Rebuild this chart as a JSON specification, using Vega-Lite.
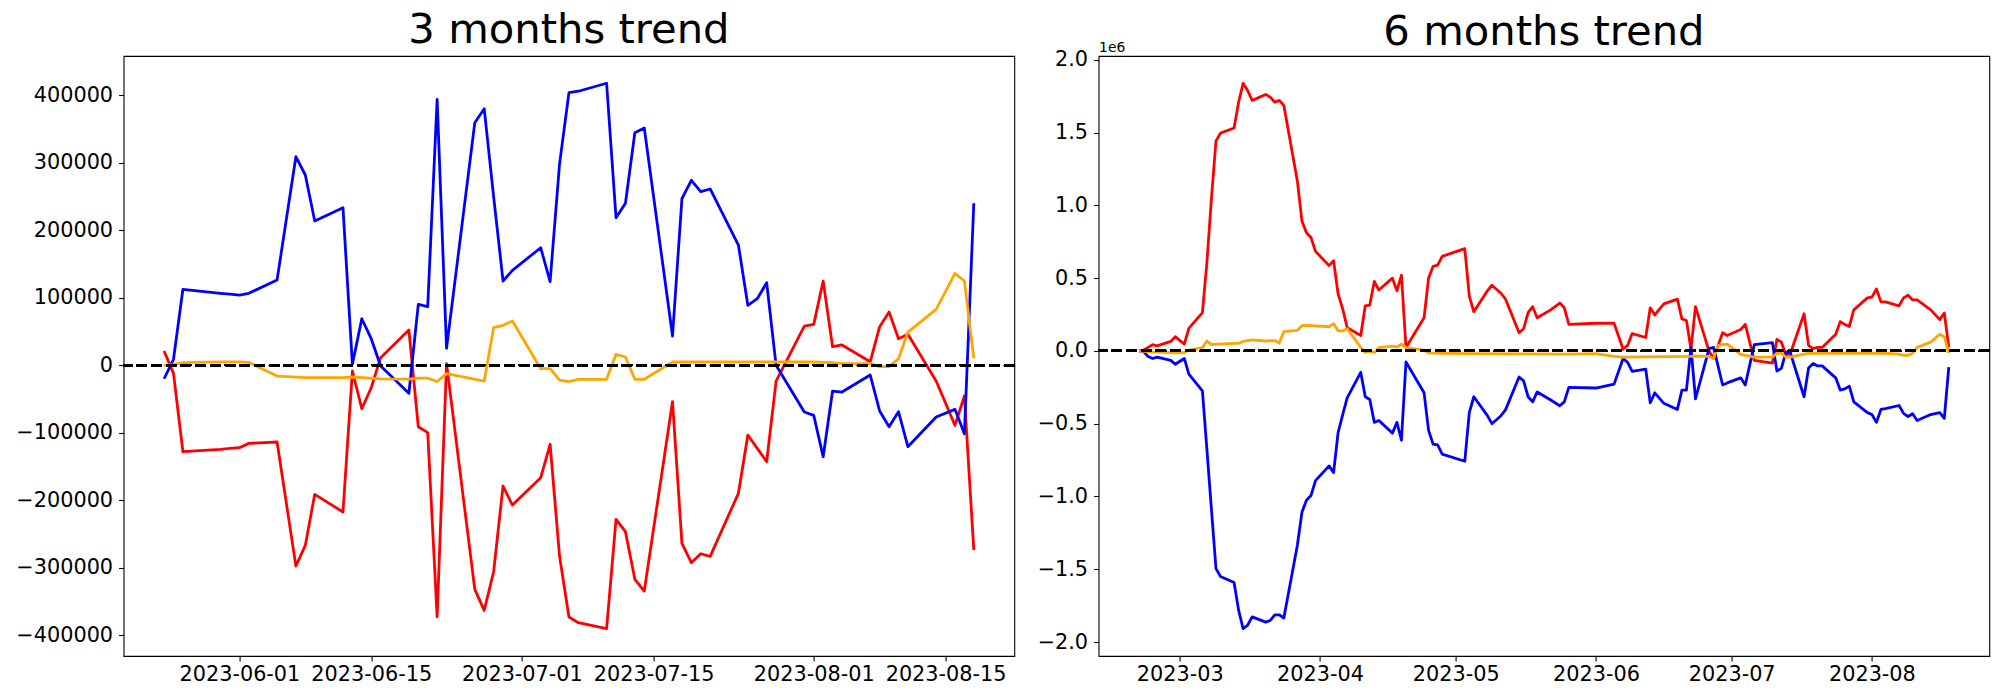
{
  "$schema": "https://vega.github.io/schema/vega-lite/v6.json",
  "background": "white",
  "padding": {"left": 12.6, "top": 9, "right": 0, "bottom": 0},
  "spacing": 19,
  "config": {
    "font": "DejaVu Sans",
    "view": {"stroke": "black", "strokeWidth": 1.1},
    "axis": {
      "domain": false, "grid": false, "ticks": true, "tickColor": "black", "tickWidth": 1.1, "tickSize": 5,
      "labelFont": "DejaVu Sans", "labelFontSize": 20.8, "labelColor": "black", "labelFlush": false, "labelOverlap": false
    },
    "title": {"font": "DejaVu Sans", "fontSize": 41.7, "fontWeight": "normal", "color": "black", "frame": "group", "anchor": "middle", "baseline": "alphabetic"}
  },
  "datasets": {
    "m3": [
      {"d": "2023-05-24", "s": "A", "v": 21200}, {"d": "2023-05-25", "s": "A", "v": -11900}, {"d": "2023-05-26", "s": "A", "v": -128000}, {"d": "2023-05-30", "s": "A", "v": -124500}, {"d": "2023-05-31", "s": "A", "v": -123000}, {"d": "2023-06-01", "s": "A", "v": -122000}, {"d": "2023-06-02", "s": "A", "v": -115600}, {"d": "2023-06-05", "s": "A", "v": -113600}, {"d": "2023-06-07", "s": "A", "v": -297300}, {"d": "2023-06-08", "s": "A", "v": -266700}, {"d": "2023-06-09", "s": "A", "v": -191100}, {"d": "2023-06-12", "s": "A", "v": -217300}, {"d": "2023-06-13", "s": "A", "v": -8400}, {"d": "2023-06-14", "s": "A", "v": -64300}, {"d": "2023-06-15", "s": "A", "v": -33200}, {"d": "2023-06-16", "s": "A", "v": 11300}, {"d": "2023-06-19", "s": "A", "v": 52300}, {"d": "2023-06-20", "s": "A", "v": -91000}, {"d": "2023-06-21", "s": "A", "v": -99800}, {"d": "2023-06-22", "s": "A", "v": -372400}, {"d": "2023-06-23", "s": "A", "v": 2400}, {"d": "2023-06-26", "s": "A", "v": -331900}, {"d": "2023-06-27", "s": "A", "v": -363000}, {"d": "2023-06-28", "s": "A", "v": -305800}, {"d": "2023-06-29", "s": "A", "v": -178800}, {"d": "2023-06-30", "s": "A", "v": -207000}, {"d": "2023-07-03", "s": "A", "v": -166500}, {"d": "2023-07-04", "s": "A", "v": -117000}, {"d": "2023-07-05", "s": "A", "v": -282500}, {"d": "2023-07-06", "s": "A", "v": -372900}, {"d": "2023-07-07", "s": "A", "v": -381300}, {"d": "2023-07-10", "s": "A", "v": -390200}, {"d": "2023-07-11", "s": "A", "v": -228100}, {"d": "2023-07-12", "s": "A", "v": -246500}, {"d": "2023-07-13", "s": "A", "v": -317000}, {"d": "2023-07-14", "s": "A", "v": -334400}, {"d": "2023-07-17", "s": "A", "v": -53900}, {"d": "2023-07-18", "s": "A", "v": -263700}, {"d": "2023-07-19", "s": "A", "v": -292400}, {"d": "2023-07-20", "s": "A", "v": -279100}, {"d": "2023-07-21", "s": "A", "v": -283000}, {"d": "2023-07-24", "s": "A", "v": -189600}, {"d": "2023-07-25", "s": "A", "v": -103300}, {"d": "2023-07-26", "s": "A", "v": -123000}, {"d": "2023-07-27", "s": "A", "v": -142800}, {"d": "2023-07-28", "s": "A", "v": -23300}, {"d": "2023-07-31", "s": "A", "v": 58200}, {"d": "2023-08-01", "s": "A", "v": 60700}, {"d": "2023-08-02", "s": "A", "v": 124900}, {"d": "2023-08-03", "s": "A", "v": 27600}, {"d": "2023-08-04", "s": "A", "v": 30100}, {"d": "2023-08-07", "s": "A", "v": 5400}, {"d": "2023-08-08", "s": "A", "v": 57200}, {"d": "2023-08-09", "s": "A", "v": 79000}, {"d": "2023-08-10", "s": "A", "v": 39400}, {"d": "2023-08-11", "s": "A", "v": 45900}, {"d": "2023-08-14", "s": "A", "v": -23300}, {"d": "2023-08-16", "s": "A", "v": -88900}, {"d": "2023-08-17", "s": "A", "v": -45500}, {"d": "2023-08-18", "s": "A", "v": -273600},
      {"d": "2023-05-24", "s": "B", "v": -19900}, {"d": "2023-05-25", "s": "B", "v": 8900}, {"d": "2023-05-26", "s": "B", "v": 112600}, {"d": "2023-05-30", "s": "B", "v": 106700}, {"d": "2023-05-31", "s": "B", "v": 105500}, {"d": "2023-06-01", "s": "B", "v": 104100}, {"d": "2023-06-02", "s": "B", "v": 106700}, {"d": "2023-06-05", "s": "B", "v": 126400}, {"d": "2023-06-07", "s": "B", "v": 309000}, {"d": "2023-06-08", "s": "B", "v": 281900}, {"d": "2023-06-09", "s": "B", "v": 213800}, {"d": "2023-06-12", "s": "B", "v": 233500}, {"d": "2023-06-13", "s": "B", "v": 1500}, {"d": "2023-06-14", "s": "B", "v": 69000}, {"d": "2023-06-15", "s": "B", "v": 39400}, {"d": "2023-06-16", "s": "B", "v": -1000}, {"d": "2023-06-19", "s": "B", "v": -41500}, {"d": "2023-06-20", "s": "B", "v": 90400}, {"d": "2023-06-21", "s": "B", "v": 86800}, {"d": "2023-06-22", "s": "B", "v": 394000}, {"d": "2023-06-23", "s": "B", "v": 25200}, {"d": "2023-06-26", "s": "B", "v": 359400}, {"d": "2023-06-27", "s": "B", "v": 380200}, {"d": "2023-06-28", "s": "B", "v": 250000}, {"d": "2023-06-29", "s": "B", "v": 124900}, {"d": "2023-06-30", "s": "B", "v": 140700}, {"d": "2023-07-03", "s": "B", "v": 174200}, {"d": "2023-07-04", "s": "B", "v": 123900}, {"d": "2023-07-05", "s": "B", "v": 298000}, {"d": "2023-07-06", "s": "B", "v": 403900}, {"d": "2023-07-07", "s": "B", "v": 406000}, {"d": "2023-07-10", "s": "B", "v": 417800}, {"d": "2023-07-11", "s": "B", "v": 218700}, {"d": "2023-07-12", "s": "B", "v": 240000}, {"d": "2023-07-13", "s": "B", "v": 344600}, {"d": "2023-07-14", "s": "B", "v": 351600}, {"d": "2023-07-17", "s": "B", "v": 43400}, {"d": "2023-07-18", "s": "B", "v": 246800}, {"d": "2023-07-19", "s": "B", "v": 274100}, {"d": "2023-07-20", "s": "B", "v": 257200}, {"d": "2023-07-21", "s": "B", "v": 261200}, {"d": "2023-07-24", "s": "B", "v": 178200}, {"d": "2023-07-25", "s": "B", "v": 88900}, {"d": "2023-07-26", "s": "B", "v": 98700}, {"d": "2023-07-27", "s": "B", "v": 122400}, {"d": "2023-07-28", "s": "B", "v": 0}, {"d": "2023-07-31", "s": "B", "v": -69200}, {"d": "2023-08-01", "s": "B", "v": -74100}, {"d": "2023-08-02", "s": "B", "v": -135400}, {"d": "2023-08-03", "s": "B", "v": -38100}, {"d": "2023-08-04", "s": "B", "v": -39600}, {"d": "2023-08-07", "s": "B", "v": -14400}, {"d": "2023-08-08", "s": "B", "v": -67700}, {"d": "2023-08-09", "s": "B", "v": -91000}, {"d": "2023-08-10", "s": "B", "v": -68700}, {"d": "2023-08-11", "s": "B", "v": -120600}, {"d": "2023-08-14", "s": "B", "v": -76600}, {"d": "2023-08-16", "s": "B", "v": -65200}, {"d": "2023-08-17", "s": "B", "v": -101300}, {"d": "2023-08-18", "s": "B", "v": 240000},
      {"d": "2023-05-24", "s": "C", "v": 0}, {"d": "2023-05-25", "s": "C", "v": 1000}, {"d": "2023-05-26", "s": "C", "v": 3900}, {"d": "2023-05-30", "s": "C", "v": 5000}, {"d": "2023-06-01", "s": "C", "v": 5000}, {"d": "2023-06-02", "s": "C", "v": 4400}, {"d": "2023-06-05", "s": "C", "v": -15900}, {"d": "2023-06-08", "s": "C", "v": -18300}, {"d": "2023-06-12", "s": "C", "v": -18300}, {"d": "2023-06-13", "s": "C", "v": -17300}, {"d": "2023-06-16", "s": "C", "v": -20000}, {"d": "2023-06-19", "s": "C", "v": -20500}, {"d": "2023-06-20", "s": "C", "v": -19000}, {"d": "2023-06-21", "s": "C", "v": -19000}, {"d": "2023-06-22", "s": "C", "v": -24000}, {"d": "2023-06-23", "s": "C", "v": -12400}, {"d": "2023-06-27", "s": "C", "v": -23300}, {"d": "2023-06-28", "s": "C", "v": 55700}, {"d": "2023-06-29", "s": "C", "v": 59300}, {"d": "2023-06-30", "s": "C", "v": 65600}, {"d": "2023-07-03", "s": "C", "v": -5000}, {"d": "2023-07-04", "s": "C", "v": -5000}, {"d": "2023-07-05", "s": "C", "v": -21800}, {"d": "2023-07-06", "s": "C", "v": -24300}, {"d": "2023-07-07", "s": "C", "v": -20700}, {"d": "2023-07-10", "s": "C", "v": -20700}, {"d": "2023-07-11", "s": "C", "v": 16300}, {"d": "2023-07-12", "s": "C", "v": 12300}, {"d": "2023-07-13", "s": "C", "v": -20700}, {"d": "2023-07-14", "s": "C", "v": -20700}, {"d": "2023-07-17", "s": "C", "v": 4900}, {"d": "2023-07-28", "s": "C", "v": 5000}, {"d": "2023-08-01", "s": "C", "v": 4900}, {"d": "2023-08-03", "s": "C", "v": 3900}, {"d": "2023-08-04", "s": "C", "v": 2400}, {"d": "2023-08-07", "s": "C", "v": 2400}, {"d": "2023-08-08", "s": "C", "v": -2000}, {"d": "2023-08-09", "s": "C", "v": -2000}, {"d": "2023-08-10", "s": "C", "v": 9800}, {"d": "2023-08-11", "s": "C", "v": 49300}, {"d": "2023-08-14", "s": "C", "v": 83000}, {"d": "2023-08-16", "s": "C", "v": 136300}, {"d": "2023-08-17", "s": "C", "v": 124900}, {"d": "2023-08-18", "s": "C", "v": 10400}
    ],
    "m6": [
      {"d": "2023-02-20", "s": "A", "v": 0}, {"d": "2023-02-21", "s": "A", "v": 5000}, {"d": "2023-02-22", "s": "A", "v": 24000}, {"d": "2023-02-23", "s": "A", "v": 43000}, {"d": "2023-02-24", "s": "A", "v": 35000}, {"d": "2023-02-27", "s": "A", "v": 65000}, {"d": "2023-02-28", "s": "A", "v": 98000}, {"d": "2023-03-02", "s": "A", "v": 46000}, {"d": "2023-03-03", "s": "A", "v": 155000}, {"d": "2023-03-06", "s": "A", "v": 263000}, {"d": "2023-03-07", "s": "A", "v": 610000}, {"d": "2023-03-08", "s": "A", "v": 1050000}, {"d": "2023-03-09", "s": "A", "v": 1442000}, {"d": "2023-03-10", "s": "A", "v": 1496000}, {"d": "2023-03-13", "s": "A", "v": 1531000}, {"d": "2023-03-14", "s": "A", "v": 1708000}, {"d": "2023-03-15", "s": "A", "v": 1838000}, {"d": "2023-03-16", "s": "A", "v": 1789000}, {"d": "2023-03-17", "s": "A", "v": 1721000}, {"d": "2023-03-20", "s": "A", "v": 1762000}, {"d": "2023-03-21", "s": "A", "v": 1743000}, {"d": "2023-03-22", "s": "A", "v": 1708000}, {"d": "2023-03-23", "s": "A", "v": 1721000}, {"d": "2023-03-24", "s": "A", "v": 1686000}, {"d": "2023-03-27", "s": "A", "v": 1165000}, {"d": "2023-03-28", "s": "A", "v": 893000}, {"d": "2023-03-29", "s": "A", "v": 812000}, {"d": "2023-03-30", "s": "A", "v": 779000}, {"d": "2023-03-31", "s": "A", "v": 684000}, {"d": "2023-04-03", "s": "A", "v": 586000}, {"d": "2023-04-04", "s": "A", "v": 619000}, {"d": "2023-04-05", "s": "A", "v": 391000}, {"d": "2023-04-06", "s": "A", "v": 290000}, {"d": "2023-04-07", "s": "A", "v": 160000}, {"d": "2023-04-10", "s": "A", "v": 106000}, {"d": "2023-04-11", "s": "A", "v": 310000}, {"d": "2023-04-12", "s": "A", "v": 315000}, {"d": "2023-04-13", "s": "A", "v": 478000}, {"d": "2023-04-14", "s": "A", "v": 418000}, {"d": "2023-04-17", "s": "A", "v": 500000}, {"d": "2023-04-18", "s": "A", "v": 413000}, {"d": "2023-04-19", "s": "A", "v": 521000}, {"d": "2023-04-20", "s": "A", "v": 24000}, {"d": "2023-04-24", "s": "A", "v": 228000}, {"d": "2023-04-25", "s": "A", "v": 500000}, {"d": "2023-04-26", "s": "A", "v": 581000}, {"d": "2023-04-27", "s": "A", "v": 589000}, {"d": "2023-04-28", "s": "A", "v": 649000}, {"d": "2023-05-03", "s": "A", "v": 703000}, {"d": "2023-05-04", "s": "A", "v": 377000}, {"d": "2023-05-05", "s": "A", "v": 269000}, {"d": "2023-05-08", "s": "A", "v": 413000}, {"d": "2023-05-09", "s": "A", "v": 451000}, {"d": "2023-05-11", "s": "A", "v": 396000}, {"d": "2023-05-12", "s": "A", "v": 356000}, {"d": "2023-05-15", "s": "A", "v": 125000}, {"d": "2023-05-16", "s": "A", "v": 152000}, {"d": "2023-05-17", "s": "A", "v": 263000}, {"d": "2023-05-18", "s": "A", "v": 304000}, {"d": "2023-05-19", "s": "A", "v": 228000}, {"d": "2023-05-22", "s": "A", "v": 282000}, {"d": "2023-05-24", "s": "A", "v": 329000}, {"d": "2023-05-25", "s": "A", "v": 296000}, {"d": "2023-05-26", "s": "A", "v": 182000}, {"d": "2023-06-01", "s": "A", "v": 190000}, {"d": "2023-06-05", "s": "A", "v": 190000}, {"d": "2023-06-07", "s": "A", "v": 11000}, {"d": "2023-06-08", "s": "A", "v": 38000}, {"d": "2023-06-09", "s": "A", "v": 119000}, {"d": "2023-06-12", "s": "A", "v": 92000}, {"d": "2023-06-13", "s": "A", "v": 296000}, {"d": "2023-06-14", "s": "A", "v": 247000}, {"d": "2023-06-16", "s": "A", "v": 323000}, {"d": "2023-06-19", "s": "A", "v": 356000}, {"d": "2023-06-20", "s": "A", "v": 220000}, {"d": "2023-06-21", "s": "A", "v": 209000}, {"d": "2023-06-22", "s": "A", "v": 11000}, {"d": "2023-06-23", "s": "A", "v": 304000}, {"d": "2023-06-26", "s": "A", "v": -3000}, {"d": "2023-06-27", "s": "A", "v": -52000}, {"d": "2023-06-29", "s": "A", "v": 125000}, {"d": "2023-06-30", "s": "A", "v": 106000}, {"d": "2023-07-03", "s": "A", "v": 147000}, {"d": "2023-07-04", "s": "A", "v": 182000}, {"d": "2023-07-06", "s": "A", "v": -65000}, {"d": "2023-07-10", "s": "A", "v": -84000}, {"d": "2023-07-11", "s": "A", "v": 79000}, {"d": "2023-07-12", "s": "A", "v": 60000}, {"d": "2023-07-13", "s": "A", "v": -30000}, {"d": "2023-07-14", "s": "A", "v": -16000}, {"d": "2023-07-17", "s": "A", "v": 255000}, {"d": "2023-07-18", "s": "A", "v": 38000}, {"d": "2023-07-19", "s": "A", "v": 16000}, {"d": "2023-07-20", "s": "A", "v": 24000}, {"d": "2023-07-21", "s": "A", "v": 24000}, {"d": "2023-07-24", "s": "A", "v": 114000}, {"d": "2023-07-25", "s": "A", "v": 201000}, {"d": "2023-07-26", "s": "A", "v": 182000}, {"d": "2023-07-27", "s": "A", "v": 168000}, {"d": "2023-07-28", "s": "A", "v": 282000}, {"d": "2023-07-31", "s": "A", "v": 364000}, {"d": "2023-08-01", "s": "A", "v": 369000}, {"d": "2023-08-02", "s": "A", "v": 426000}, {"d": "2023-08-03", "s": "A", "v": 337000}, {"d": "2023-08-04", "s": "A", "v": 337000}, {"d": "2023-08-07", "s": "A", "v": 310000}, {"d": "2023-08-08", "s": "A", "v": 364000}, {"d": "2023-08-09", "s": "A", "v": 383000}, {"d": "2023-08-10", "s": "A", "v": 350000}, {"d": "2023-08-11", "s": "A", "v": 350000}, {"d": "2023-08-14", "s": "A", "v": 282000}, {"d": "2023-08-16", "s": "A", "v": 215000}, {"d": "2023-08-17", "s": "A", "v": 261000}, {"d": "2023-08-18", "s": "A", "v": 24000},
      {"d": "2023-02-20", "s": "B", "v": 0}, {"d": "2023-02-21", "s": "B", "v": -5000}, {"d": "2023-02-22", "s": "B", "v": -38000}, {"d": "2023-02-23", "s": "B", "v": -52000}, {"d": "2023-02-24", "s": "B", "v": -43000}, {"d": "2023-02-27", "s": "B", "v": -65000}, {"d": "2023-02-28", "s": "B", "v": -92000}, {"d": "2023-03-02", "s": "B", "v": -52000}, {"d": "2023-03-03", "s": "B", "v": -160000}, {"d": "2023-03-06", "s": "B", "v": -274000}, {"d": "2023-03-07", "s": "B", "v": -680000}, {"d": "2023-03-08", "s": "B", "v": -1090000}, {"d": "2023-03-09", "s": "B", "v": -1496000}, {"d": "2023-03-10", "s": "B", "v": -1550000}, {"d": "2023-03-13", "s": "B", "v": -1591000}, {"d": "2023-03-14", "s": "B", "v": -1781000}, {"d": "2023-03-15", "s": "B", "v": -1909000}, {"d": "2023-03-16", "s": "B", "v": -1884000}, {"d": "2023-03-17", "s": "B", "v": -1827000}, {"d": "2023-03-20", "s": "B", "v": -1863000}, {"d": "2023-03-21", "s": "B", "v": -1852000}, {"d": "2023-03-22", "s": "B", "v": -1814000}, {"d": "2023-03-23", "s": "B", "v": -1814000}, {"d": "2023-03-24", "s": "B", "v": -1835000}, {"d": "2023-03-27", "s": "B", "v": -1333000}, {"d": "2023-03-28", "s": "B", "v": -1108000}, {"d": "2023-03-29", "s": "B", "v": -1026000}, {"d": "2023-03-30", "s": "B", "v": -994000}, {"d": "2023-03-31", "s": "B", "v": -891000}, {"d": "2023-04-03", "s": "B", "v": -790000}, {"d": "2023-04-04", "s": "B", "v": -836000}, {"d": "2023-04-05", "s": "B", "v": -559000}, {"d": "2023-04-06", "s": "B", "v": -440000}, {"d": "2023-04-07", "s": "B", "v": -323000}, {"d": "2023-04-10", "s": "B", "v": -147000}, {"d": "2023-04-11", "s": "B", "v": -315000}, {"d": "2023-04-12", "s": "B", "v": -334000}, {"d": "2023-04-13", "s": "B", "v": -491000}, {"d": "2023-04-14", "s": "B", "v": -478000}, {"d": "2023-04-17", "s": "B", "v": -565000}, {"d": "2023-04-18", "s": "B", "v": -491000}, {"d": "2023-04-19", "s": "B", "v": -614000}, {"d": "2023-04-20", "s": "B", "v": -76000}, {"d": "2023-04-24", "s": "B", "v": -288000}, {"d": "2023-04-25", "s": "B", "v": -546000}, {"d": "2023-04-26", "s": "B", "v": -641000}, {"d": "2023-04-27", "s": "B", "v": -646000}, {"d": "2023-04-28", "s": "B", "v": -709000}, {"d": "2023-05-03", "s": "B", "v": -758000}, {"d": "2023-05-04", "s": "B", "v": -424000}, {"d": "2023-05-05", "s": "B", "v": -315000}, {"d": "2023-05-08", "s": "B", "v": -445000}, {"d": "2023-05-09", "s": "B", "v": -500000}, {"d": "2023-05-11", "s": "B", "v": -445000}, {"d": "2023-05-12", "s": "B", "v": -405000}, {"d": "2023-05-15", "s": "B", "v": -179000}, {"d": "2023-05-16", "s": "B", "v": -206000}, {"d": "2023-05-17", "s": "B", "v": -315000}, {"d": "2023-05-18", "s": "B", "v": -350000}, {"d": "2023-05-19", "s": "B", "v": -282000}, {"d": "2023-05-22", "s": "B", "v": -337000}, {"d": "2023-05-24", "s": "B", "v": -377000}, {"d": "2023-05-25", "s": "B", "v": -350000}, {"d": "2023-05-26", "s": "B", "v": -250000}, {"d": "2023-06-01", "s": "B", "v": -255000}, {"d": "2023-06-05", "s": "B", "v": -228000}, {"d": "2023-06-07", "s": "B", "v": -52000}, {"d": "2023-06-08", "s": "B", "v": -79000}, {"d": "2023-06-09", "s": "B", "v": -141000}, {"d": "2023-06-12", "s": "B", "v": -125000}, {"d": "2023-06-13", "s": "B", "v": -356000}, {"d": "2023-06-14", "s": "B", "v": -288000}, {"d": "2023-06-16", "s": "B", "v": -360000}, {"d": "2023-06-19", "s": "B", "v": -402000}, {"d": "2023-06-20", "s": "B", "v": -269000}, {"d": "2023-06-21", "s": "B", "v": -269000}, {"d": "2023-06-22", "s": "B", "v": 24000}, {"d": "2023-06-23", "s": "B", "v": -329000}, {"d": "2023-06-26", "s": "B", "v": 16000}, {"d": "2023-06-27", "s": "B", "v": 24000}, {"d": "2023-06-29", "s": "B", "v": -234000}, {"d": "2023-06-30", "s": "B", "v": -220000}, {"d": "2023-07-03", "s": "B", "v": -185000}, {"d": "2023-07-04", "s": "B", "v": -234000}, {"d": "2023-07-06", "s": "B", "v": 43000}, {"d": "2023-07-10", "s": "B", "v": 57000}, {"d": "2023-07-11", "s": "B", "v": -138000}, {"d": "2023-07-12", "s": "B", "v": -119000}, {"d": "2023-07-13", "s": "B", "v": -8000}, {"d": "2023-07-14", "s": "B", "v": -16000}, {"d": "2023-07-17", "s": "B", "v": -315000}, {"d": "2023-07-18", "s": "B", "v": -117000}, {"d": "2023-07-19", "s": "B", "v": -87000}, {"d": "2023-07-20", "s": "B", "v": -103000}, {"d": "2023-07-21", "s": "B", "v": -103000}, {"d": "2023-07-24", "s": "B", "v": -185000}, {"d": "2023-07-25", "s": "B", "v": -269000}, {"d": "2023-07-26", "s": "B", "v": -261000}, {"d": "2023-07-27", "s": "B", "v": -242000}, {"d": "2023-07-28", "s": "B", "v": -350000}, {"d": "2023-07-31", "s": "B", "v": -424000}, {"d": "2023-08-01", "s": "B", "v": -437000}, {"d": "2023-08-02", "s": "B", "v": -491000}, {"d": "2023-08-03", "s": "B", "v": -402000}, {"d": "2023-08-04", "s": "B", "v": -396000}, {"d": "2023-08-07", "s": "B", "v": -375000}, {"d": "2023-08-08", "s": "B", "v": -429000}, {"d": "2023-08-09", "s": "B", "v": -451000}, {"d": "2023-08-10", "s": "B", "v": -432000}, {"d": "2023-08-11", "s": "B", "v": -478000}, {"d": "2023-08-14", "s": "B", "v": -437000}, {"d": "2023-08-16", "s": "B", "v": -424000}, {"d": "2023-08-17", "s": "B", "v": -464000}, {"d": "2023-08-18", "s": "B", "v": -111000},
      {"d": "2023-02-20", "s": "C", "v": 0}, {"d": "2023-02-21", "s": "C", "v": -3000}, {"d": "2023-02-24", "s": "C", "v": -8000}, {"d": "2023-02-27", "s": "C", "v": -12000}, {"d": "2023-02-28", "s": "C", "v": -14000}, {"d": "2023-03-02", "s": "C", "v": -11000}, {"d": "2023-03-03", "s": "C", "v": 5000}, {"d": "2023-03-06", "s": "C", "v": 22000}, {"d": "2023-03-07", "s": "C", "v": 68000}, {"d": "2023-03-08", "s": "C", "v": 43000}, {"d": "2023-03-09", "s": "C", "v": 46000}, {"d": "2023-03-13", "s": "C", "v": 52000}, {"d": "2023-03-14", "s": "C", "v": 52000}, {"d": "2023-03-15", "s": "C", "v": 65000}, {"d": "2023-03-17", "s": "C", "v": 76000}, {"d": "2023-03-20", "s": "C", "v": 68000}, {"d": "2023-03-22", "s": "C", "v": 71000}, {"d": "2023-03-23", "s": "C", "v": 54000}, {"d": "2023-03-24", "s": "C", "v": 133000}, {"d": "2023-03-27", "s": "C", "v": 141000}, {"d": "2023-03-28", "s": "C", "v": 174000}, {"d": "2023-03-29", "s": "C", "v": 176000}, {"d": "2023-04-03", "s": "C", "v": 166000}, {"d": "2023-04-04", "s": "C", "v": 187000}, {"d": "2023-04-05", "s": "C", "v": 138000}, {"d": "2023-04-06", "s": "C", "v": 138000}, {"d": "2023-04-07", "s": "C", "v": 152000}, {"d": "2023-04-10", "s": "C", "v": 24000}, {"d": "2023-04-11", "s": "C", "v": -11000}, {"d": "2023-04-12", "s": "C", "v": -3000}, {"d": "2023-04-13", "s": "C", "v": -11000}, {"d": "2023-04-14", "s": "C", "v": 22000}, {"d": "2023-04-17", "s": "C", "v": 33000}, {"d": "2023-04-18", "s": "C", "v": 27000}, {"d": "2023-04-19", "s": "C", "v": 46000}, {"d": "2023-04-20", "s": "C", "v": 22000}, {"d": "2023-04-24", "s": "C", "v": 5000}, {"d": "2023-04-25", "s": "C", "v": -14000}, {"d": "2023-04-28", "s": "C", "v": -16000}, {"d": "2023-05-04", "s": "C", "v": -19000}, {"d": "2023-05-26", "s": "C", "v": -22000}, {"d": "2023-06-01", "s": "C", "v": -19000}, {"d": "2023-06-05", "s": "C", "v": -38000}, {"d": "2023-06-07", "s": "C", "v": -43000}, {"d": "2023-06-22", "s": "C", "v": -38000}, {"d": "2023-06-23", "s": "C", "v": -35000}, {"d": "2023-06-26", "s": "C", "v": -38000}, {"d": "2023-06-27", "s": "C", "v": -52000}, {"d": "2023-06-28", "s": "C", "v": 38000}, {"d": "2023-06-29", "s": "C", "v": 43000}, {"d": "2023-06-30", "s": "C", "v": 46000}, {"d": "2023-07-03", "s": "C", "v": -24000}, {"d": "2023-07-04", "s": "C", "v": -30000}, {"d": "2023-07-06", "s": "C", "v": -43000}, {"d": "2023-07-10", "s": "C", "v": -43000}, {"d": "2023-07-11", "s": "C", "v": -16000}, {"d": "2023-07-12", "s": "C", "v": -16000}, {"d": "2023-07-13", "s": "C", "v": -43000}, {"d": "2023-07-14", "s": "C", "v": -43000}, {"d": "2023-07-17", "s": "C", "v": -22000}, {"d": "2023-07-18", "s": "C", "v": -16000}, {"d": "2023-08-04", "s": "C", "v": -16000}, {"d": "2023-08-07", "s": "C", "v": -22000}, {"d": "2023-08-08", "s": "C", "v": -30000}, {"d": "2023-08-09", "s": "C", "v": -30000}, {"d": "2023-08-10", "s": "C", "v": -16000}, {"d": "2023-08-11", "s": "C", "v": 24000}, {"d": "2023-08-14", "s": "C", "v": 60000}, {"d": "2023-08-16", "s": "C", "v": 114000}, {"d": "2023-08-17", "s": "C", "v": 98000}, {"d": "2023-08-18", "s": "C", "v": -16000}
    ]
  },
  "hconcat": [
    {
      "width": 890.7,
      "height": 600,
      "title": {"text": "3 months trend", "offset": 4.7},
      "data": {"name": "m3"},
      "layer": [
        {
          "mark": {"type": "line", "strokeWidth": 2.8, "strokeJoin": "round", "clip": true},
          "encoding": {
            "x": {"field": "d", "type": "temporal",
              "scale": {"type": "utc", "domain": [{"year": 2023, "month": 5, "date": 19, "hours": 16, "minutes": 48, "utc": true}, {"year": 2023, "month": 8, "date": 22, "hours": 7, "minutes": 12, "utc": true}]},
              "axis": {"title": null, "format": "%Y-%m-%d", "labelPadding": 4,
                "values": [{"year": 2023, "month": 6, "date": 1, "utc": true}, {"year": 2023, "month": 6, "date": 15, "utc": true}, {"year": 2023, "month": 7, "date": 1, "utc": true}, {"year": 2023, "month": 7, "date": 15, "utc": true}, {"year": 2023, "month": 8, "date": 1, "utc": true}, {"year": 2023, "month": 8, "date": 15, "utc": true}]}},
            "y": {"field": "v", "type": "quantitative",
              "scale": {"domain": [-430600, 458200], "nice": false, "zero": false},
              "axis": {"title": null, "format": "d", "labelPadding": 6, "minExtent": 110, "maxExtent": 110,
                "values": [-400000, -300000, -200000, -100000, 0, 100000, 200000, 300000, 400000]}},
            "color": {"field": "s", "type": "nominal", "scale": {"domain": ["A", "B", "C"], "range": ["#ff0000", "#0000ff", "#ffa500"]}, "legend": null}
          }
        },
        {
          "mark": {"type": "rule", "color": "black", "strokeWidth": 2.1, "strokeDash": [10.3, 4.4]},
          "encoding": {"y": {"datum": 0}}
        }
      ]
    },
    {
      "width": 890.7,
      "height": 600,
      "title": {"text": "6 months trend", "offset": -12.5},
      "data": {"name": "m6"},
      "layer": [
        {
          "mark": {"type": "line", "strokeWidth": 2.8, "strokeJoin": "round", "clip": true},
          "encoding": {
            "x": {"field": "d", "type": "temporal",
              "scale": {"type": "utc", "domain": [{"year": 2023, "month": 2, "date": 11, "hours": 1, "minutes": 12, "utc": true}, {"year": 2023, "month": 8, "date": 26, "hours": 22, "minutes": 48, "utc": true}]},
              "axis": {"title": null, "format": "%Y-%m", "labelPadding": 4,
                "values": [{"year": 2023, "month": 3, "date": 1, "utc": true}, {"year": 2023, "month": 4, "date": 1, "utc": true}, {"year": 2023, "month": 5, "date": 1, "utc": true}, {"year": 2023, "month": 6, "date": 1, "utc": true}, {"year": 2023, "month": 7, "date": 1, "utc": true}, {"year": 2023, "month": 8, "date": 1, "utc": true}]}},
            "y": {"field": "v", "type": "quantitative",
              "scale": {"domain": [-2096000, 2026000], "nice": false, "zero": false},
              "axis": {"title": "1e6", "titleAngle": 0, "titleAlign": "left", "titleBaseline": "alphabetic", "titleX": 0, "titleY": -4.3,
                "titleFont": "DejaVu Sans", "titleFontSize": 13.9, "titleFontWeight": "normal", "titleColor": "black",
                "labelExpr": "format(datum.value / 1000000, '.1f')", "labelPadding": 6, "minExtent": 62, "maxExtent": 62,
                "values": [-2000000, -1500000, -1000000, -500000, 0, 500000, 1000000, 1500000, 2000000]}},
            "color": {"field": "s", "type": "nominal", "scale": {"domain": ["A", "B", "C"], "range": ["#ff0000", "#0000ff", "#ffa500"]}, "legend": null}
          }
        },
        {
          "mark": {"type": "rule", "color": "black", "strokeWidth": 2.1, "strokeDash": [10.3, 4.4]},
          "encoding": {"y": {"datum": 0}}
        }
      ]
    }
  ]
}
